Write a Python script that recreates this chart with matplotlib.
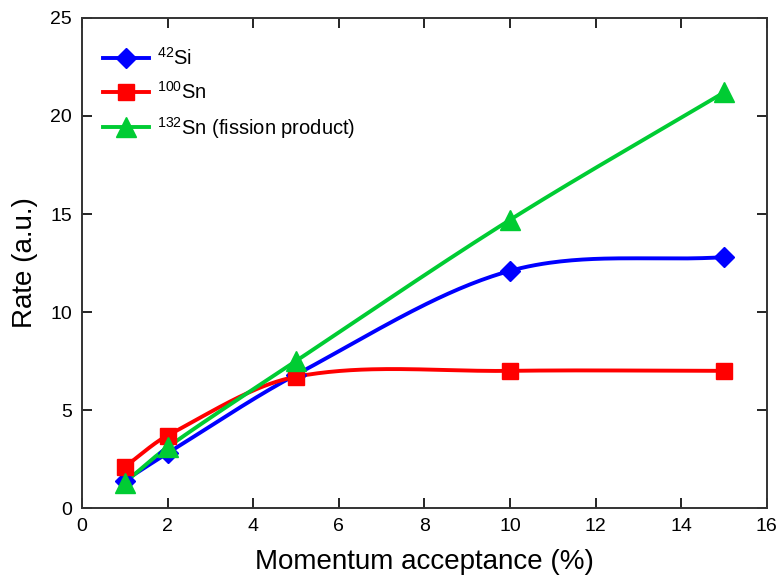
import numpy as np
import matplotlib
matplotlib.use("Agg")
import matplotlib.pyplot as plt

plt.rcParams['font.family'] = ['Liberation Sans', 'DejaVu Sans']
plt.rcParams['mathtext.fontset'] = 'custom'
plt.rcParams['mathtext.rm'] = 'Liberation Sans'
plt.rcParams['mathtext.default'] = 'regular'

x = [1, 2, 5, 10, 15]
si42 = [1.4, 2.8, 6.8, 12.1, 12.8]
sn100 = [2.1, 3.7, 6.7, 7.0, 7.0]
sn132 = [1.3, 3.1, 7.5, 14.7, 21.2]


def smooth(xs, ys, n=60):
    # piecewise cubic hermite, catmull-rom style tangents
    xs = np.asarray(xs, float)
    ys = np.asarray(ys, float)
    m = np.empty_like(ys)
    m[0] = (ys[1] - ys[0]) / (xs[1] - xs[0])
    m[-1] = (ys[-1] - ys[-2]) / (xs[-1] - xs[-2])
    m[1:-1] = (ys[2:] - ys[:-2]) / (xs[2:] - xs[:-2])
    px, py = [], []
    for i in range(len(xs) - 1):
        h = xs[i + 1] - xs[i]
        t = np.linspace(0, 1, n)
        h00 = 2 * t**3 - 3 * t**2 + 1
        h10 = t**3 - 2 * t**2 + t
        h01 = -2 * t**3 + 3 * t**2
        h11 = t**3 - t**2
        px.append(xs[i] + t * h)
        py.append(h00 * ys[i] + h10 * h * m[i] + h01 * ys[i + 1] + h11 * h * m[i + 1])
    return np.concatenate(px), np.concatenate(py)


fig = plt.figure(figsize=(7.8, 5.8), dpi=100)
ax = fig.add_axes([0.105, 0.124, 0.878, 0.845])

series = [
    (si42, '#0000ff', 'D', 10.5, r'$^{42}$Si'),
    (sn100, '#ff0000', 's', 12, r'$^{100}$Sn'),
    (sn132, '#00cc33', '^', 14, r'$^{132}$Sn (fission product)'),
]
for ys, col, mk, ms, lab in series:
    sx, sy = smooth(x, ys)
    ax.plot(sx, sy, color=col, lw=2.8, zorder=2)
    ax.plot(x, ys, ls='none', marker=mk, ms=ms, color=col, zorder=3)
    ax.plot([], [], color=col, lw=2.8, marker=mk, ms=ms, label=lab)

ax.set_xlim(0, 16)
ax.set_ylim(0, 25)
ax.set_xticks(range(0, 17, 2))
ax.set_yticks(range(0, 26, 5))
ax.tick_params(direction='in', top=True, right=True, length=7, width=1.2,
               labelsize=14, pad=7)
for s in ax.spines.values():
    s.set_linewidth(1.4)
    s.set_color('#333333')
ax.set_xlabel('Momentum acceptance (%)', fontsize=20, labelpad=10)
ax.set_ylabel('Rate (a.u.)', fontsize=20, labelpad=9)
ax.legend(loc='upper left', frameon=False, fontsize=14.5, handlelength=2.3,
          handletextpad=0.4, borderaxespad=0.3, labelspacing=0.6,
          bbox_to_anchor=(0.01, 0.97))

fig.savefig('out.png', dpi=100)
